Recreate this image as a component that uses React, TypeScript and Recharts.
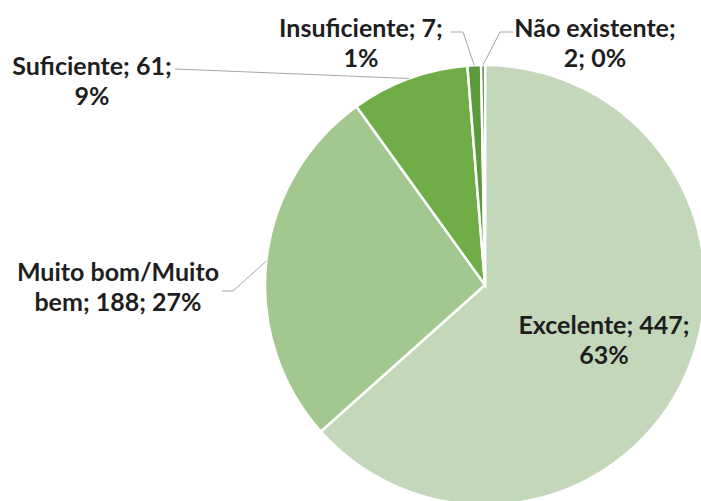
import { Cell, Pie, PieChart } from 'recharts'

const categories = ['Excelente', 'Muito bom/Muito bem', 'Suficiente', 'Insuficiente', 'Não existente']
const counts = [447, 188, 61, 7, 2]

const COLORS = ['#c3d8bb', '#a2c78f', '#70ad47', '#5b9a3c', '#3f7a2a']

// label placement (centre x, first line y) and leader elbow, per slice
const LABEL_POS = [
	{ x: 604, y: 324, line: null },
	{ x: 118, y: 271, line: [[222, 291], [233, 291]] },
	{ x: 92, y: 65, line: [[175, 69]] },
	{ x: 361, y: 27, line: [[451, 32], [463, 32]] },
	{ x: 595, y: 27, line: [[513, 32], [500, 32]] },
]

const total = counts.reduce((a, b) => a + b, 0)
const data = categories.map((name, i) => ({ name, value: counts[i] }))

function wrap(text: string, max: number) {
	const words = text.split(' ')
	const lines: string[] = []
	let cur = ''
	for (const w of words) {
		const next = cur ? cur + ' ' + w : w
		if (next.length > max && cur) {
			lines.push(cur)
			cur = w
		} else cur = next
	}
	if (cur) lines.push(cur)
	return lines
}

const RAD = Math.PI / 180

function renderLabel(props: any) {
	const { cx, cy, midAngle, outerRadius, index, name, value } = props
	const pos = LABEL_POS[index]
	const pct = Math.round((value / total) * 100)
	const lines = wrap(`${name}; ${value}; ${pct}%`, 16)
	const ax = cx + outerRadius * Math.cos(-midAngle * RAD)
	const ay = cy + outerRadius * Math.sin(-midAngle * RAD)
	const pts = pos.line ? [...pos.line, [ax, ay]] : null
	return (
		<g key={index}>
			{pts && (
				<polyline
					points={pts.map((p) => p.join(',')).join(' ')}
					fill="none"
					stroke="#a6a6a6"
					strokeWidth={1}
				/>
			)}
			{lines.map((l, j) => (
				<text
					key={j}
					x={pos.x}
					y={pos.y + j * 30}
					textAnchor="middle"
					dominantBaseline="central"
					fontFamily="Lato, 'Open Sans', sans-serif"
					fontWeight={700}
					fontSize={25}
					fill="#1e1e1e"
				>
					{l}
				</text>
			))}
		</g>
	)
}

export default function App() {
	return (
		<div style={{ position: 'absolute', left: 0, top: 0, background: '#fff' }}>
			<PieChart width={701} height={501} margin={{ top: 0, right: 0, bottom: 0, left: 0 }}>
				<Pie
					data={data}
					dataKey="value"
					nameKey="name"
					cx={485}
					cy={285}
					outerRadius={220}
					startAngle={90}
					endAngle={-270}
					stroke="#fff"
					strokeWidth={2.5}
					label={renderLabel}
					labelLine={false}
					isAnimationActive={false}
				>
					{data.map((_, i) => (
						<Cell key={i} fill={COLORS[i]} />
					))}
				</Pie>
			</PieChart>
		</div>
	)
}
